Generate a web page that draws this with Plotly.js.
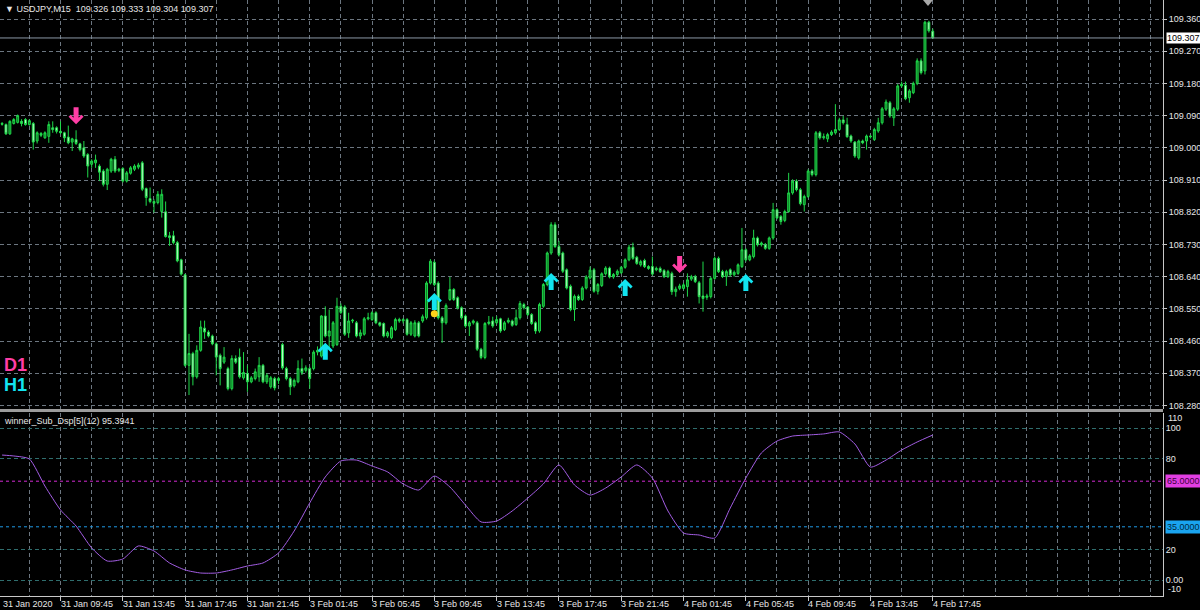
<!DOCTYPE html>
<html><head><meta charset="utf-8">
<script src="https://cdn.plot.ly/plotly-3.0.1.min.js"></script>
<style>html,body{margin:0;padding:0;background:#000;} #chart{width:1200px;height:610px;}</style>
</head><body><div id="chart"></div>
<script>
const symbolName = 'USDJPY,M15';
const indicatorName = 'winner_Sub_Dsp[5](12)';

const open = [
109.068,109.065,109.039,109.068,109.071,109.074,109.079,109.065,109.068,109.019,
109.040,109.028,109.032,109.056,109.056,109.046,109.042,109.030,109.016,109.023,
109.011,109.000,108.981,108.954,108.958,108.949,108.935,108.898,108.935,108.968,
108.937,108.942,108.907,108.929,108.940,108.946,108.958,108.886,108.858,108.850,
108.847,108.822,108.821,108.754,108.754,108.735,108.687,108.645,108.392,108.425,
108.360,108.434,108.496,108.485,108.474,108.452,108.420,108.401,108.383,108.327,
108.411,108.415,108.357,108.369,108.346,108.355,108.360,108.392,108.346,108.332,
108.355,108.350,108.450,108.383,108.355,108.335,108.346,108.383,108.378,108.383,
108.383,108.429,108.418,108.530,108.474,108.446,108.450,108.557,108.555,108.483,
108.516,108.511,108.474,108.479,108.522,108.520,108.539,108.511,108.509,108.474,
108.469,108.492,108.520,108.516,108.520,108.479,108.474,108.511,108.516,108.525,
108.622,108.680,108.622,108.525,108.511,108.576,108.604,108.581,108.553,108.530,
108.502,108.511,108.511,108.437,108.414,108.509,108.516,108.511,108.522,108.492,
108.513,108.516,108.506,108.525,108.562,108.555,108.534,108.511,108.488,108.557,
108.618,108.706,108.785,108.724,108.706,108.659,108.613,108.548,108.585,108.576,
108.608,108.636,108.659,108.599,108.615,108.648,108.664,108.639,108.646,108.651,
108.666,108.687,108.722,108.694,108.673,108.685,108.668,108.668,108.659,108.663,
108.657,108.640,108.649,108.598,108.607,108.607,108.612,108.633,108.640,108.623,
108.586,108.582,108.584,108.635,108.691,108.654,108.640,108.659,108.645,108.649,
108.668,108.715,108.687,108.696,108.748,108.729,108.729,108.719,108.748,108.827,
108.808,108.797,108.822,108.874,108.907,108.883,108.841,108.864,108.935,108.925,
109.042,109.028,109.025,109.037,109.042,109.051,109.078,109.065,109.033,109.016,
108.972,109.019,109.019,109.033,109.023,109.047,109.070,109.108,109.126,109.084,
109.108,109.173,109.175,109.140,109.154,109.180,109.243,109.215,109.351,109.326];

const high = [
109.072,109.068,109.077,109.083,109.093,109.080,109.083,109.080,109.072,109.046,
109.044,109.046,109.074,109.074,109.060,109.074,109.045,109.062,109.028,109.049,
109.014,109.019,108.985,108.968,108.981,108.954,108.940,108.944,108.972,108.977,
108.944,108.946,108.935,108.949,108.954,108.958,108.963,108.889,108.889,108.856,
108.879,108.884,108.850,108.765,108.768,108.740,108.690,108.648,108.480,108.430,
108.448,108.517,108.517,108.490,108.478,108.456,108.425,108.443,108.388,108.420,
108.420,108.439,108.429,108.392,108.362,108.383,108.415,108.396,108.370,108.362,
108.360,108.360,108.455,108.388,108.360,108.355,108.406,108.411,108.392,108.388,
108.434,108.445,108.532,108.557,108.548,108.516,108.581,108.565,108.560,108.539,
108.522,108.516,108.492,108.527,108.539,108.543,108.543,108.514,108.512,108.488,
108.502,108.525,108.525,108.524,108.524,108.516,108.518,108.516,108.534,108.627,
108.689,108.685,108.627,108.530,108.565,108.639,108.608,108.585,108.557,108.534,
108.516,108.520,108.516,108.441,108.513,108.530,108.528,108.530,108.525,108.516,
108.525,108.520,108.548,108.572,108.567,108.558,108.538,108.515,108.567,108.622,
108.710,108.792,108.792,108.740,108.710,108.663,108.618,108.590,108.590,108.613,
108.644,108.668,108.664,108.622,108.652,108.669,108.668,108.650,108.660,108.670,
108.691,108.729,108.735,108.698,108.687,108.690,108.672,108.696,108.668,108.668,
108.661,108.659,108.654,108.612,108.620,108.622,108.649,108.645,108.645,108.628,
108.682,108.592,108.640,108.696,108.696,108.659,108.659,108.663,108.657,108.677,
108.776,108.719,108.703,108.771,108.752,108.738,108.734,108.752,108.846,108.831,
108.812,108.827,108.930,108.912,108.912,108.888,108.869,108.940,108.940,109.047,
109.047,109.040,109.042,109.049,109.122,109.084,109.089,109.084,109.037,109.019,
109.023,109.023,109.037,109.037,109.056,109.084,109.114,109.135,109.131,109.114,
109.178,109.185,109.185,109.164,109.185,109.250,109.250,109.355,109.355,109.333];

const low = [
109.062,109.036,109.036,109.065,109.068,109.060,109.062,109.062,108.995,109.012,
109.030,109.025,109.014,109.042,109.040,109.038,109.016,109.010,108.991,109.008,
108.990,108.972,108.917,108.944,108.944,108.907,108.892,108.882,108.930,108.930,
108.932,108.903,108.903,108.925,108.935,108.940,108.879,108.838,108.845,108.819,
108.842,108.805,108.749,108.726,108.730,108.680,108.643,108.388,108.309,108.336,
108.355,108.430,108.466,108.470,108.448,108.364,108.336,108.396,108.322,108.322,
108.396,108.355,108.352,108.318,108.342,108.350,108.346,108.342,108.340,108.327,
108.322,108.340,108.380,108.350,108.309,108.330,108.342,108.365,108.372,108.327,
108.378,108.420,108.414,108.470,108.437,108.440,108.446,108.535,108.474,108.469,
108.510,108.470,108.465,108.475,108.518,108.516,108.507,108.500,108.470,108.469,
108.465,108.488,108.511,108.509,108.475,108.474,108.470,108.470,108.511,108.520,
108.618,108.613,108.520,108.455,108.506,108.572,108.572,108.548,108.520,108.497,
108.474,108.506,108.432,108.409,108.409,108.504,108.497,108.506,108.483,108.488,
108.509,108.500,108.502,108.520,108.548,108.530,108.505,108.480,108.483,108.553,
108.613,108.701,108.720,108.696,108.650,108.604,108.543,108.516,108.572,108.572,
108.604,108.632,108.595,108.590,108.611,108.643,108.635,108.634,108.640,108.647,
108.662,108.683,108.687,108.673,108.668,108.664,108.659,108.643,108.655,108.650,
108.636,108.636,108.589,108.584,108.602,108.603,108.584,108.628,108.622,108.565,
108.542,108.575,108.579,108.631,108.650,108.636,108.614,108.640,108.640,108.645,
108.664,108.682,108.683,108.691,108.724,108.724,108.715,108.715,108.743,108.800,
108.785,108.792,108.818,108.869,108.878,108.839,108.822,108.860,108.920,108.920,
109.023,109.023,109.016,109.033,109.037,109.047,109.065,109.028,109.014,108.972,
108.967,109.010,108.995,109.026,109.019,109.042,109.065,109.103,109.084,109.061,
109.103,109.168,109.133,109.126,109.150,109.175,109.205,109.205,109.322,109.304];

const close = [
109.066,109.039,109.074,109.079,109.090,109.068,109.065,109.076,109.016,109.042,
109.035,109.042,109.065,109.051,109.046,109.042,109.028,109.014,109.025,109.012,
108.995,108.977,108.949,108.963,108.966,108.932,108.898,108.940,108.968,108.935,
108.940,108.907,108.930,108.944,108.949,108.952,108.884,108.861,108.850,108.845,
108.870,108.870,108.752,108.749,108.735,108.684,108.647,108.392,108.425,108.360,
108.434,108.499,108.485,108.474,108.452,108.415,108.383,108.415,108.327,108.411,
108.401,108.360,108.372,108.346,108.357,108.374,108.392,108.346,108.364,108.357,
108.329,108.355,108.385,108.355,108.332,108.350,108.383,108.372,108.385,108.355,
108.429,108.434,108.530,108.474,108.488,108.511,108.557,108.540,108.479,108.516,
108.518,108.474,108.483,108.522,108.525,108.539,108.511,108.504,108.474,108.483,
108.497,108.520,108.516,108.520,108.479,108.511,108.511,108.474,108.528,108.622,
108.683,108.618,108.525,108.511,108.559,108.604,108.576,108.553,108.525,108.502,
108.511,108.516,108.437,108.414,108.509,108.513,108.502,108.520,108.488,108.511,
108.518,108.504,108.525,108.565,108.553,108.534,108.509,108.488,108.562,108.618,
108.706,108.785,108.724,108.701,108.655,108.608,108.548,108.585,108.576,108.608,
108.639,108.658,108.599,108.618,108.648,108.664,108.639,108.646,108.655,108.666,
108.687,108.722,108.691,108.677,108.682,108.668,108.663,108.647,108.663,108.654,
108.640,108.654,108.598,108.605,108.614,108.617,108.631,108.640,108.626,108.584,
108.579,108.586,108.635,108.691,108.654,108.640,108.654,108.645,108.652,108.673,
108.715,108.687,108.698,108.748,108.729,108.734,108.719,108.748,108.827,108.804,
108.794,108.822,108.874,108.907,108.883,108.844,108.864,108.935,108.925,109.042,
109.028,109.031,109.037,109.044,109.051,109.078,109.070,109.031,109.019,108.977,
109.019,109.014,109.033,109.031,109.051,109.070,109.109,109.128,109.089,109.109,
109.173,109.178,109.137,109.159,109.180,109.243,109.210,109.351,109.327,109.307];

const barIdx = open.map((v, k) => k + 1);

const priceTicks = [108.28,108.37,108.46,108.55,108.64,108.73,108.82,108.91,109.00,109.09,109.18,109.27,109.36];

const firstLabel = '31 Jan 2020';
const xLabelIdx = [16,32,48,64,80,96,112,128,144,160,176,192,208,224,240];
const xLabelText = ['31 Jan 09:45','31 Jan 13:45','31 Jan 17:45','31 Jan 21:45','3 Feb 01:45','3 Feb 05:45',
  '3 Feb 09:45','3 Feb 13:45','3 Feb 17:45','3 Feb 21:45','4 Feb 01:45','4 Feb 05:45','4 Feb 09:45','4 Feb 13:45','4 Feb 17:45'];

const oscIdx = [1,4,8,12,16,20,24,28,32,36,40,44,48,52,56,60,64,68,72,76,80,84,88,92,96,100,104,108,112,116,
  120,124,128,132,136,140,144,148,152,156,160,164,168,172,176,180,184,188,192,196,200,204,208,212,216,220,224,228,232,236,240];
const oscVal = [82.2,81.6,79.6,61.8,46.1,35.5,21.1,12.5,13.8,22.4,19.1,11.2,6.6,4.6,4.6,6.6,9.2,11.2,17.8,32.2,
  50.7,67.8,78.3,78.9,75.0,71.1,63.2,59.2,68.4,61.2,49.3,38.2,38.8,45.4,53.9,63.2,75.7,62.5,55.9,60.5,
  67.8,75.7,67.1,45.4,30.9,29.6,27.6,47.4,67.1,83.6,91.4,94.7,95.4,96.1,97.4,89.5,74.3,78.9,85.5,90.8,95.3941];

const levelHigh = 65, levelLow = 35;
const subTicks = [100, 80, 20, 0];
const subTickText = ['100', '80', '20', '0.00'];
const subEdgeLabels = ['110', '-10'];

const d1Idx = [20, 175];
const d1Price = [109.066, 108.650];
const h1Idx = [84, 112, 142, 161, 192];
const h1Price = [108.455, 108.594, 108.650, 108.633, 108.647];
const dotIdx = [112];
const dotPrice = [108.536];

// ---------- layout geometry (pixels) ----------
const PH = 596; // plot height
const py = y => 1 - y / PH;
const FONT = 'Liberation Sans, Arial, DejaVu Sans, sans-serif';
const gridCol = '#6c7680';
const gridDash = '4px,3px';
const last = close.length - 1;

const candle = {
  type: 'candlestick', x: barIdx, open: open, high: high, low: low, close: close,
  xaxis: 'x', yaxis: 'y', hoverinfo: 'skip',
  increasing: {line: {color: '#1fd84a', width: 1}, fillcolor: '#0c7a22'},
  decreasing: {line: {color: '#1fd84a', width: 1}, fillcolor: '#c8ffd0'}
};
const osc = {
  type: 'scatter', mode: 'lines', x: oscIdx, y: oscVal, xaxis: 'x', yaxis: 'y2',
  line: {color: '#a45ee5', width: 1, shape: 'spline', smoothing: 0.6}, hoverinfo: 'skip'
};
const dots = {
  type: 'scatter', mode: 'markers', x: dotIdx, y: dotPrice, xaxis: 'x', yaxis: 'y',
  marker: {color: '#ffd21a', size: 7}, hoverinfo: 'skip'
};

const downPath = 'M0,0L-7.5,7.5L-5.5,9.5L-2.5,6.5L-2.5,17L2.5,17L2.5,6.5L5.5,9.5L7.5,7.5Z';
const upPath = 'M0,0L-7.5,-7.5L-5.5,-9.5L-2.5,-6.5L-2.5,-17L2.5,-17L2.5,-6.5L5.5,-9.5L7.5,-7.5Z';

const shapes = [];
d1Idx.forEach((ix, k) => shapes.push({type: 'path', xref: 'x', yref: 'y', xsizemode: 'pixel', ysizemode: 'pixel',
  xanchor: ix, yanchor: d1Price[k], path: downPath, fillcolor: '#ff3ea5', line: {width: 0}}));
h1Idx.forEach((ix, k) => shapes.push({type: 'path', xref: 'x', yref: 'y', xsizemode: 'pixel', ysizemode: 'pixel',
  xanchor: ix, yanchor: h1Price[k], path: upPath, fillcolor: '#12e4f0', line: {width: 0}}));
// price line
shapes.push({type: 'line', xref: 'paper', x0: 0, x1: 1, yref: 'y', y0: close[last], y1: close[last],
  line: {color: '#8a97a6', width: 1}});
// level lines
shapes.push({type: 'line', xref: 'paper', x0: 0, x1: 1, yref: 'y2', y0: levelHigh, y1: levelHigh,
  line: {color: '#d42ad4', width: 1, dash: '3px,3px'}});
shapes.push({type: 'line', xref: 'paper', x0: 0, x1: 1, yref: 'y2', y0: levelLow, y1: levelLow,
  line: {color: '#1e9be6', width: 1, dash: '3px,3px'}});
// window separator
shapes.push({type: 'rect', xref: 'paper', x0: 0, x1: 1, yref: 'paper', y0: py(412), y1: py(409),
  fillcolor: '#9c9c9c', line: {width: 0}});
// chart-shift marker
shapes.push({type: 'path', xref: 'paper', yref: 'paper', xsizemode: 'pixel', ysizemode: 'pixel',
  xanchor: 928 / 1163, yanchor: 1, path: 'M-5,0L5,0L0,-6Z', fillcolor: '#a8a8a8', line: {width: 0}});

const ann = [];
const txtFont = {family: FONT, size: 9, color: '#e6e6e6'};
ann.push({xref: 'paper', yref: 'paper', x: 0, y: py(9), xshift: 3, xanchor: 'left', yanchor: 'middle', showarrow: false,
  text: '\u25BC ' + symbolName + '\u00a0\u00a0' + [open[last], high[last], low[last], close[last]].map(v => v.toFixed(3)).join(' '),
  font: txtFont});
ann.push({xref: 'paper', yref: 'paper', x: 0, y: py(421), xshift: 2, xanchor: 'left', yanchor: 'middle', showarrow: false,
  text: indicatorName + ' ' + oscVal[oscVal.length - 1].toFixed(4), font: txtFont});
ann.push({xref: 'paper', yref: 'paper', x: 0, y: py(365), xshift: 2, xanchor: 'left', yanchor: 'middle', showarrow: false,
  text: '<b>D1</b>', font: {family: FONT, size: 18, color: '#ff3ea5'}});
ann.push({xref: 'paper', yref: 'paper', x: 0, y: py(384.5), xshift: 2, xanchor: 'left', yanchor: 'middle', showarrow: false,
  text: '<b>H1</b>', font: {family: FONT, size: 18, color: '#12e4f0'}});
// x labels
ann.push({xref: 'paper', yref: 'paper', x: 0, y: py(604), xshift: 1, xanchor: 'left', yanchor: 'middle', showarrow: false,
  text: firstLabel, font: txtFont});
xLabelIdx.forEach((ix, k) => ann.push({xref: 'x', yref: 'paper', x: ix, y: py(604), xshift: -2, xanchor: 'left', yanchor: 'middle',
  showarrow: false, text: xLabelText[k], font: txtFont}));
// price box
ann.push({xref: 'paper', yref: 'y', x: 1, y: close[last], xshift: 3, xanchor: 'left', yanchor: 'middle', showarrow: false,
  text: close[last].toFixed(3), bgcolor: '#ffffff', borderpad: 0, font: {family: FONT, size: 9, color: '#000000'}});
// level boxes
ann.push({xref: 'paper', yref: 'y2', x: 1, y: levelHigh, xshift: 2, xanchor: 'left', yanchor: 'middle', showarrow: false,
  text: levelHigh.toFixed(4), bgcolor: '#e23ee2', borderpad: 1, font: {family: FONT, size: 9, color: '#3c003c'}});
ann.push({xref: 'paper', yref: 'y2', x: 1, y: levelLow, xshift: 2, xanchor: 'left', yanchor: 'middle', showarrow: false,
  text: levelLow.toFixed(4), bgcolor: '#1aa4f0', borderpad: 1, font: {family: FONT, size: 9, color: '#002a44'}});
// sub edge labels
ann.push({xref: 'paper', yref: 'paper', x: 1, y: py(418), xshift: 3, xanchor: 'left', yanchor: 'middle', showarrow: false,
  text: subEdgeLabels[0], font: txtFont});
ann.push({xref: 'paper', yref: 'paper', x: 1, y: py(589), xshift: 3, xanchor: 'left', yanchor: 'middle', showarrow: false,
  text: subEdgeLabels[1], font: txtFont});

const layout = {
  width: 1200, height: 610,
  margin: {l: 0, r: 37, t: 0, b: 14, pad: 0},
  paper_bgcolor: '#000000', plot_bgcolor: '#000000',
  showlegend: false, hovermode: false,
  font: {family: FONT, size: 9, color: '#e6e6e6'},
  xaxis: {
    anchor: 'y2', range: [0.462, 299.13], rangeslider: {visible: false},
    tickmode: 'array', tickvals: xLabelIdx, showticklabels: false,
    ticks: 'outside', ticklen: 4, tickcolor: '#c8c8c8', tickwidth: 1,
    showgrid: true, gridcolor: gridCol, griddash: gridDash, gridwidth: 1,
    minor: {tickmode: 'linear', tick0: 0, dtick: 8, showgrid: true, gridcolor: gridCol, griddash: gridDash, ticks: ''},
    showline: true, linecolor: '#c8c8c8', linewidth: 1, zeroline: false, fixedrange: true
  },
  yaxis: {
    domain: [py(409), 1], range: [108.2700, 109.4131], side: 'right', anchor: 'x',
    tickmode: 'array', tickvals: priceTicks, ticktext: priceTicks.map(v => v.toFixed(3)),
    ticks: 'outside', ticklen: 3, tickcolor: '#c8c8c8',
    tickfont: {family: FONT, size: 9, color: '#e6e6e6'},
    showgrid: true, gridcolor: gridCol, griddash: gridDash,
    showline: true, linecolor: '#c8c8c8', zeroline: false, fixedrange: true
  },
  yaxis2: {
    domain: [0, py(413)], range: [-10.53, 109.87], side: 'right', anchor: 'x',
    tickmode: 'array', tickvals: subTicks, ticktext: subTickText,
    ticks: '', ticklen: 0,
    tickfont: {family: FONT, size: 9, color: '#e6e6e6'},
    showgrid: true, gridcolor: '#2f6e6e', griddash: gridDash,
    showline: true, linecolor: '#c8c8c8', zeroline: false, fixedrange: true
  },
  shapes: shapes,
  annotations: ann
};

Plotly.newPlot('chart', [candle, osc, dots], layout, {staticPlot: true, displayModeBar: false});
</script>
</body></html>
